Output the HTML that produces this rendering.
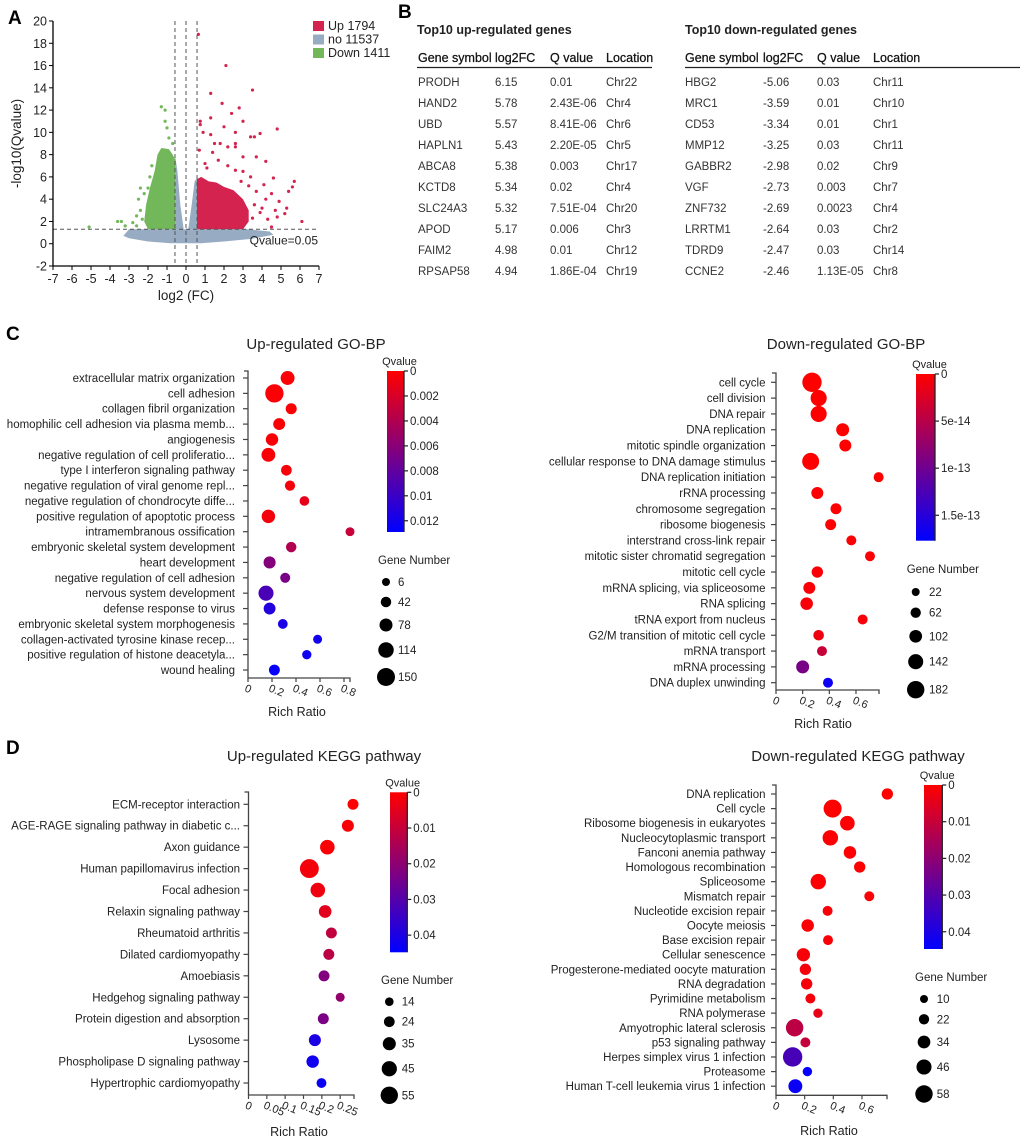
<!DOCTYPE html>
<html><head><meta charset="utf-8"><style>
html,body{margin:0;padding:0;background:#fff}
svg{display:block;font-family:"Liberation Sans",Arial,sans-serif}
</style></head><body>
<svg id="fig" width="1020" height="1140" viewBox="0 0 1020 1140" xmlns="http://www.w3.org/2000/svg">
<g id="panelA"></g>
<g id="panelB"></g>
<g id="panelCL"></g>
<g id="panelCR"></g>
<g id="panelDL"></g>
<g id="panelDR"></g>
</svg>
<script>
// ---------- Panel A data ----------
const volLegendLabels = ["Up 1794","no 11537","Down 1411"];
const volXTicks = [-7,-6,-5,-4,-3,-2,-1,0,1,2,3,4,5,6,7];
const volYTicks = [-2,0,2,4,6,8,10,12,14,16,18,20];
const volFcCut = 0.58;
const volQCut = 1.3;
const volGrayBand = [[-3.3,0.7],[-3.0,1.3],[3.3,1.3],[4.4,1.1],[4.6,0.8],[3.5,0.45],[2,0.2],[0.8,0.05],[-0.8,0.05],[-2,0.2],[-3,0.5]];
const volGrayLeftArm = [[-0.58,1.3],[-0.58,8.0],[-0.45,6.5],[-0.3,3.5],[-0.12,1.3]];
const volGrayRightArm = [[0.12,1.3],[0.3,3.5],[0.45,5.6],[0.58,5.9],[0.58,1.3]];
const volGreenRegion = [[-0.58,1.3],[-2.0,1.3],[-2.2,2.0],[-2.1,3.5],[-1.9,5.0],[-1.65,6.5],[-1.5,8.0],[-1.3,8.6],[-0.9,8.5],[-0.7,8.0],[-0.58,7.6]];
const volRedRegion = [[0.58,1.3],[0.58,5.8],[0.8,6.0],[1.2,5.6],[1.6,5.5],[2.0,5.1],[2.5,4.8],[3.0,4.0],[3.3,3.0],[3.3,2.0],[3.0,1.3]];
const volRedPts = [[0.65,18.8],[2.1,16],[3.5,13.8],[1.3,13.5],[1.9,12.6],[2.8,12.2],[2.4,11.7],[1.3,11.3],[0.75,11],[0.75,10.7],[2.0,10.5],[3.0,11],[4.8,10.3],[3.9,9.9],[3.4,9.6],[3.6,9.6],[1.3,9.8],[2.6,10],[0.9,10],[1.5,9],[1.8,9],[2.2,8.7],[2.6,9],[2.6,8.7],[0.7,8.4],[1.4,8.2],[3.0,7.8],[3.7,7.8],[4.2,7.4],[4.6,5.9],[5.7,5.6],[5.6,5.1],[5.4,4.7],[6.1,2],[5.3,3.2],[4.9,3.8],[4.5,4.5],[4.2,4.0],[3.7,4.7],[5.2,2.7],[4.8,2.4],[4.3,2.2],[4.5,1.5],[3.9,2.8],[4.1,5.3],[3.4,6],[3.0,6.5],[1.0,7.2],[1.7,7.5],[2.2,7.0],[2.6,6.6],[3.3,5.2],[3.6,3.5],[4.0,3.2],[3.5,2.3],[4.7,3.0],[1.1,6.8],[2.9,5.6]];
const volGreenPts = [[-1.3,12.3],[-1.1,12],[-1.1,11],[-1.0,10.4],[-0.9,9.5],[-5.1,1.5],[-3.6,2],[-3.4,2],[-3.2,1.6],[-2.8,1.9],[-2.6,2.5],[-2.4,3],[-2.5,4],[-2.2,4.5],[-2.4,5],[-2.0,5],[-1.9,6],[-1.8,7],[-2.3,2.2],[-2.6,1.6],[-0.7,9.0]];

// ---------- Panel B data ----------
const upGenes = ["PRODH","HAND2","UBD","HAPLN1","ABCA8","KCTD8","SLC24A3","APOD","FAIM2","RPSAP58"];
const upFC = ["6.15","5.78","5.57","5.43","5.38","5.34","5.32","5.17","4.98","4.94"];
const upQ = ["0.01","2.43E-06","8.41E-06","2.20E-05","0.003","0.02","7.51E-04","0.006","0.01","1.86E-04"];
const upLoc = ["Chr22","Chr4","Chr6","Chr5","Chr17","Chr4","Chr20","Chr3","Chr12","Chr19"];
const downGenes = ["HBG2","MRC1","CD53","MMP12","GABBR2","VGF","ZNF732","LRRTM1","TDRD9","CCNE2"];
const downFC = ["-5.06","-3.59","-3.34","-3.25","-2.98","-2.73","-2.69","-2.64","-2.47","-2.46"];
const downQ = ["0.03","0.01","0.01","0.03","0.02","0.003","0.0023","0.03","0.03","1.13E-05"];
const downLoc = ["Chr11","Chr10","Chr1","Chr11","Chr9","Chr7","Chr4","Chr2","Chr14","Chr8"];

// ---------- Panel C left ----------
const cLeftTerms = ["extracellular matrix organization","cell adhesion","collagen fibril organization","homophilic cell adhesion via plasma memb...","angiogenesis","negative regulation of cell proliferatio...","type I interferon signaling pathway","negative regulation of viral genome repl...","negative regulation of chondrocyte diffe...","positive regulation of apoptotic process","intramembranous ossification","embryonic skeletal system development","heart development","negative regulation of cell adhesion","nervous system development","defense response to virus","embryonic skeletal system morphogenesis","collagen-activated tyrosine kinase recep...","positive regulation of histone deacetyla...","wound healing"];
const cLeftRatio = [0.33,0.22,0.36,0.26,0.20,0.17,0.32,0.35,0.47,0.17,0.85,0.36,0.18,0.31,0.15,0.18,0.29,0.58,0.49,0.22];
const cLeftQ = [0.0002,0.0002,0.0002,0.0003,0.0003,0.0003,0.0004,0.0005,0.0012,0.0006,0.0028,0.0040,0.0062,0.0068,0.0092,0.0112,0.0116,0.0120,0.0122,0.0126];
const cLeftCount = [92,155,50,62,70,90,45,38,30,85,20,42,65,35,108,62,32,20,25,48];
const cLeftXTicks = [0,0.2,0.4,0.6,0.8];
const cLeftCbTicks = [0,0.002,0.004,0.006,0.008,0.01,0.012];
const cLeftCbLabels = ["0","0.002","0.004","0.006","0.008","0.01","0.012"];
const cLeftSizeLegend = [6,42,78,114,150];

// ---------- Panel C right ----------
const cRightTerms = ["cell cycle","cell division","DNA repair","DNA replication","mitotic spindle organization","cellular response to DNA damage stimulus","DNA replication initiation","rRNA processing","chromosome segregation","ribosome biogenesis","interstrand cross-link repair","mitotic sister chromatid segregation","mitotic cell cycle","mRNA splicing, via spliceosome","RNA splicing","tRNA export from nucleus","G2/M transition of mitotic cell cycle","mRNA transport","mRNA processing","DNA duplex unwinding"];
const cRightRatio = [0.27,0.32,0.32,0.50,0.52,0.26,0.77,0.31,0.45,0.41,0.565,0.705,0.31,0.25,0.23,0.65,0.32,0.345,0.20,0.39];
const cRightQ = [0,0,0,0,0,0,0,0.02e-13,0.02e-13,0.02e-13,0.03e-13,0.03e-13,0.04e-13,0.04e-13,0.05e-13,0.06e-13,0.12e-13,0.39e-13,0.94e-13,1.68e-13];
const cRightCount = [215,160,160,107,90,175,56,90,73,73,56,56,80,90,100,56,66,56,107,56];
const cRightXTicks = [0,0.2,0.4,0.6];
const cRightCbTicks = [0,5e-14,1e-13,1.5e-13];
const cRightCbLabels = ["0","5e-14","1e-13","1.5e-13"];
const cRightSizeLegend = [22,62,102,142,182];

// ---------- Panel D left ----------
const dLeftTerms = ["ECM-receptor interaction","AGE-RAGE signaling pathway in diabetic c...","Axon guidance","Human papillomavirus infection","Focal adhesion","Relaxin signaling pathway","Rheumatoid arthritis","Dilated cardiomyopathy","Amoebiasis","Hedgehog signaling pathway","Protein digestion and absorption","Lysosome","Phospholipase D signaling pathway","Hypertrophic cardiomyopathy"];
const dLeftRatio = [0.285,0.271,0.215,0.166,0.189,0.209,0.226,0.219,0.206,0.25,0.204,0.181,0.175,0.199];
const dLeftQ = [0.0005,0.001,0.001,0.002,0.003,0.005,0.011,0.012,0.022,0.019,0.023,0.040,0.042,0.043];
const dLeftCount = [25,30,42,62,42,33,25,25,25,16,25,30,32,20];
const dLeftXTicks = [0,0.05,0.1,0.15,0.2,0.25];
const dLeftCbTicks = [0,0.01,0.02,0.03,0.04];
const dLeftCbLabels = ["0","0.01","0.02","0.03","0.04"];
const dLeftSizeLegend = [14,24,35,45,55];

// ---------- Panel D right ----------
const dRightTerms = ["DNA replication","Cell cycle","Ribosome biogenesis in eukaryotes","Nucleocytoplasmic transport","Fanconi anemia pathway","Homologous recombination","Spliceosome","Mismatch repair","Nucleotide excision repair","Oocyte meiosis","Base excision repair","Cellular senescence","Progesterone-mediated oocyte maturation","RNA degradation","Pyrimidine metabolism","RNA polymerase","Amyotrophic lateral sclerosis","p53 signaling pathway","Herpes simplex virus 1 infection","Proteasome","Human T-cell leukemia virus 1 infection"];
const dRightRatio = [0.777,0.395,0.498,0.379,0.516,0.584,0.295,0.651,0.36,0.221,0.363,0.191,0.205,0.214,0.24,0.293,0.13,0.205,0.116,0.219,0.135];
const dRightQ = [0,0,0.0005,0.0005,0.0005,0.0005,0.0005,0.0005,0.001,0.001,0.001,0.0012,0.0015,0.0015,0.002,0.004,0.012,0.010,0.032,0.044,0.043];
const dRightCount = [27,61,44,48,33,27,48,20,20,33,20,37,27,27,20,17,58,20,68,17,40];
const dRightXTicks = [0,0.2,0.4,0.6];
const dRightCbTicks = [0,0.01,0.02,0.03,0.04];
const dRightCbLabels = ["0","0.01","0.02","0.03","0.04"];
const dRightSizeLegend = [10,22,34,46,58];

const NS = "http://www.w3.org/2000/svg";
function mk(parent, tag, attrs, text){
  const e = document.createElementNS(NS, tag);
  for (const k in attrs) e.setAttribute(k, attrs[k]);
  if (text !== undefined) e.textContent = text;
  parent.appendChild(e);
  return e;
}
const svg = document.getElementById('fig');

[["A",8,24],["B",398,18],["C",6,340],["D",6,754]].forEach(function(p){
  const t = mk(svg,'text',{x:p[1],y:p[2],'font-size':19,'font-weight':'bold',fill:'#000'},p[0]);
  
  
});

// ---------- Draw Panel A ----------
(function(){
  const g = document.getElementById('panelA');
  const X0=53, X1=319, Y0=266, Y1=21;
  const xs = v => X0 + (v+7)/14*(X1-X0);
  const ys = v => Y0 - (v+2)/22*(Y0-Y1);
  const poly = (pts, fill, name) => {
    const p = mk(g,'polygon',{points:pts.map(q=>xs(q[0]).toFixed(1)+','+ys(q[1]).toFixed(1)).join(' '),fill:fill});
    
    
  };
  poly(volGrayBand,'#97acc2','nonsig-cloud');
  poly(volGrayLeftArm,'#97acc2','nonsig-left-arm');
  poly(volGrayRightArm,'#97acc2','nonsig-right-arm');
  poly(volGreenRegion,'#72b85a','down-cloud');
  poly(volRedRegion,'#d4234f','up-cloud');
  volRedPts.forEach(function(q){
    const c = mk(g,'circle',{cx:xs(q[0]),cy:ys(q[1]),r:1.6,fill:'#d4234f'});
    
    
  });
  volGreenPts.forEach(function(q){
    const c = mk(g,'circle',{cx:xs(q[0]),cy:ys(q[1]),r:1.6,fill:'#72b85a'});
    
    
  });
  [-volFcCut,0,volFcCut].forEach(function(v){
    const l = mk(g,'line',{x1:xs(v),x2:xs(v),y1:Y1,y2:Y0,stroke:'#555','stroke-width':1,'stroke-dasharray':'4,3'});
    
    
  });
  const hl = mk(g,'line',{x1:X0,x2:X1,y1:ys(volQCut),y2:ys(volQCut),stroke:'#555','stroke-width':1,'stroke-dasharray':'4,3'});
  
  
  const qt = mk(g,'text',{x:X1-1,y:ys(volQCut)+15,'text-anchor':'end','font-size':12,fill:'#222'},'Qvalue=0.05');
  
  
  const ax = mk(g,'path',{d:`M${X0},${Y1} V${Y0} H${X1}`,stroke:'#000','stroke-width':1.3,fill:'none'});
  
  
  volYTicks.forEach(function(v){
    mk(g,'line',{x1:X0-4,x2:X0,y1:ys(v),y2:ys(v),stroke:'#000'});
    const t = mk(g,'text',{x:X0-6,y:ys(v)+4.5,'text-anchor':'end','font-size':12.5,fill:'#222'},String(v));
    
    
  });
  volXTicks.forEach(function(v){
    mk(g,'line',{x1:xs(v),x2:xs(v),y1:Y0,y2:Y0+4,stroke:'#000'});
    const t = mk(g,'text',{x:xs(v),y:Y0+17,'text-anchor':'middle','font-size':12.5,fill:'#222'},String(v));
    
    
  });
  const yt = mk(g,'text',{x:0,y:0,transform:`translate(21,${(Y0+Y1)/2}) rotate(-90)`,'text-anchor':'middle','font-size':13.5,fill:'#222'},'-log10(Qvalue)');
  
  
  const xt = mk(g,'text',{x:(X0+X1)/2,y:300,'text-anchor':'middle','font-size':13.5,fill:'#222'},'log2 (FC)');
  
  
  const cols = ['#d4234f','#97acc2','#72b85a'];
  volLegendLabels.forEach(function(s,i){
    const r = mk(g,'rect',{x:313,y:21+i*13.5,width:11,height:10,fill:cols[i]});
    
    
    const t = mk(g,'text',{x:328,y:30+i*13.5,'font-size':12.5,fill:'#222'},s);
    
    
  });
})();

// ---------- Draw Panel B ----------
function drawTable(g, x0, x1, cols, title, genes, fc, q, loc){
  const tt = mk(g,'text',{x:x0,y:34,'font-size':12.5,'font-weight':'bold',fill:'#222'},title);
  
  
  ["Gene symbol","log2FC","Q value","Location"].forEach(function(h,i){
    const t = mk(g,'text',{x:cols[i],y:62,'font-size':12.5,fill:'#111',stroke:'#111','stroke-width':0.25},h);
    
    
  });
  const l = mk(g,'line',{x1:x0,x2:x1,y1:67.5,y2:67.5,stroke:'#222','stroke-width':1.3});
  
  
  for (let i=0;i<genes.length;i++){
    const y = 86 + i*21;
    [genes[i],fc[i],q[i],loc[i]].forEach(function(s,j){
      const t = mk(g,'text',{x:cols[j],y:y,'font-size':11.5,fill:'#333'},s);
      
      
    });
  }
}
drawTable(document.getElementById('panelB'),417,652,[418,495,550,606],"Top10 up-regulated genes",upGenes,upFC,upQ,upLoc);
drawTable(document.getElementById('panelB'),685,1020,[685,763,817,873],"Top10 down-regulated genes",downGenes,downFC,downQ,downLoc);

// ---------- Dot plot ----------
function qColor(q, max){
  let t = Math.max(0, Math.min(1, q/max));
  return `rgb(${Math.round(255*(1-t))},0,${Math.round(255*t)})`;
}
function drawDot(gid, cfg, terms, ratio, qv, count, xTicks, cbTicks, cbLabels, sizeVals){
  const g = document.getElementById(gid);
  const xs = v => cfg.ax + v*cfg.ppu;
  const ys = i => cfg.row0 + i*cfg.rowStep;
  const rs = n => cfg.ra + cfg.rb*n;
  const title = mk(g,'text',{x:cfg.titleX,y:cfg.titleY,'text-anchor':'middle','font-size':15,fill:'#222'},cfg.title);
  
  
  const axis = mk(g,'path',{d:`M${cfg.ax-4},${cfg.top} H${cfg.ax} V${cfg.bottom} H${cfg.xEnd} V${cfg.bottom+4}`,stroke:'#444','stroke-width':1.3,fill:'none'});
  
  
  terms.forEach(function(s,i){
    mk(g,'line',{x1:cfg.ax-5,x2:cfg.ax,y1:ys(i),y2:ys(i),stroke:'#444','stroke-width':1.2});
    const t = mk(g,'text',{x:cfg.labelRight,y:ys(i)+4,'text-anchor':'end','font-size':11.5,fill:'#222'},s);
    
    
  });
  xTicks.forEach(function(v){
    mk(g,'line',{x1:xs(v),x2:xs(v),y1:cfg.bottom,y2:cfg.bottom+4,stroke:'#444','stroke-width':1.2});
    const t = mk(g,'text',{x:xs(v)-4,y:cfg.bottom+13,transform:`rotate(22 ${xs(v)-4} ${cfg.bottom+13})`,'font-size':11,fill:'#222'},String(v));
    
    
  });
  const xt = mk(g,'text',{x:cfg.xTitleX,y:cfg.xTitleY,'text-anchor':'middle','font-size':12.5,fill:'#222'},'Rich Ratio');
  
  
  terms.forEach(function(s,i){
    const c = mk(g,'circle',{cx:xs(ratio[i]),cy:ys(i),r:rs(count[i]),fill:qColor(qv[i],cfg.cbMax)});
    
    
  });
  const gid2 = gid+'-grad';
  const defs = mk(g,'defs',{});
  const lg = mk(defs,'linearGradient',{id:gid2,x1:0,y1:0,x2:0,y2:1});
  mk(lg,'stop',{offset:'0%','stop-color':'rgb(255,0,0)'});
  mk(lg,'stop',{offset:'50%','stop-color':'rgb(128,0,128)'});
  mk(lg,'stop',{offset:'100%','stop-color':'rgb(0,0,255)'});
  const cbx = cfg.cbX, cby = cfg.cbY, cbw = cfg.cbW, cbh = cfg.cbH;
  const cb = mk(g,'rect',{x:cbx,y:cby,width:cbw,height:cbh,fill:`url(#${gid2})`});
  
  
  mk(g,'line',{x1:cbx+cbw,x2:cbx+cbw,y1:cby,y2:cby+cbh,stroke:'#222','stroke-width':1.3});
  const qt = mk(g,'text',{x:cbx+cbw/2+4,y:cby-6,'text-anchor':'middle','font-size':11,fill:'#222'},'Qvalue');
  
  
  cbTicks.forEach(function(v,i){
    const y = cby + v/cfg.cbMax*cbh;
    mk(g,'line',{x1:cbx+cbw,x2:cbx+cbw+4,y1:y,y2:y,stroke:'#222','stroke-width':1.2});
    const t = mk(g,'text',{x:cbx+cbw+6,y:y+4,'font-size':11.5,fill:'#222'},cbLabels[i]);
    
    
  });
  const lt = mk(g,'text',{x:cfg.lgTitleX,y:cfg.lgTitleY,'font-size':11.5,fill:'#222'},'Gene Number');
  
  
  sizeVals.forEach(function(n,i){
    const c = mk(g,'circle',{cx:cfg.lgDotX,cy:cfg.lgYs[i],r:rs(n),fill:'#000'});
    
    
    const t = mk(g,'text',{x:cfg.lgLabelX,y:cfg.lgYs[i]+4,'font-size':11.5,fill:'#222'},String(n));
    
    
  });
}

drawDot('panelCL',{title:'Up-regulated GO-BP',titleX:316,titleY:349,ax:248,ppu:120,xEnd:350,top:371,bottom:678,row0:378,rowStep:15.37,labelRight:235,xTitleX:297,xTitleY:716,ra:3.79,rb:0.0347,cbX:387,cbY:371,cbW:17,cbH:161,cbMax:0.0129,lgTitleX:378,lgTitleY:564,lgDotX:386,lgYs:[582,602,625,650,677],lgLabelX:398},
  cLeftTerms,cLeftRatio,cLeftQ,cLeftCount,cLeftXTicks,cLeftCbTicks,cLeftCbLabels,cLeftSizeLegend);

drawDot('panelCR',{title:'Down-regulated GO-BP',titleX:846,titleY:349,ax:776,ppu:133.3,xEnd:879,top:373,bottom:690,row0:382.3,rowStep:15.81,labelRight:765.5,xTitleX:823,xTitleY:728,ra:3.35,rb:0.0294,cbX:916,cbY:374,cbW:19,cbH:166.7,cbMax:1.77e-13,lgTitleX:906.7,lgTitleY:573,lgDotX:915.7,lgYs:[592,612.7,636.3,661.7,689.7],lgLabelX:929},
  cRightTerms,cRightRatio,cRightQ,cRightCount,cRightXTicks,cRightCbTicks,cRightCbLabels,cRightSizeLegend);

drawDot('panelDL',{title:'Up-regulated KEGG pathway',titleX:324,titleY:761,ax:248.5,ppu:366.7,xEnd:354,top:792,bottom:1095,row0:804.3,rowStep:21.44,labelRight:240,xTitleX:299,xTitleY:1136,ra:2.8,rb:0.107,cbX:390,cbY:792.3,cbW:17.3,cbH:160,cbMax:0.0448,lgTitleX:381,lgTitleY:984,lgDotX:389.3,lgYs:[1001.7,1021.7,1043.7,1068.7,1095.3],lgLabelX:401.7},
  dLeftTerms,dLeftRatio,dLeftQ,dLeftCount,dLeftXTicks,dLeftCbTicks,dLeftCbLabels,dLeftSizeLegend);

drawDot('panelDR',{title:'Down-regulated KEGG pathway',titleX:858,titleY:761,ax:776,ppu:143.3,xEnd:887,top:785,bottom:1095.3,row0:794,rowStep:14.61,labelRight:765.5,xTitleX:829,xTitleY:1135,ra:3.02,rb:0.098,cbX:924,cbY:785,cbW:18.3,cbH:164,cbMax:0.0447,lgTitleX:915,lgTitleY:981,lgDotX:924,lgYs:[999,1019.3,1042,1067,1094],lgLabelX:936.7},
  dRightTerms,dRightRatio,dRightQ,dRightCount,dRightXTicks,dRightCbTicks,dRightCbLabels,dRightSizeLegend);
</script>
</body></html>
